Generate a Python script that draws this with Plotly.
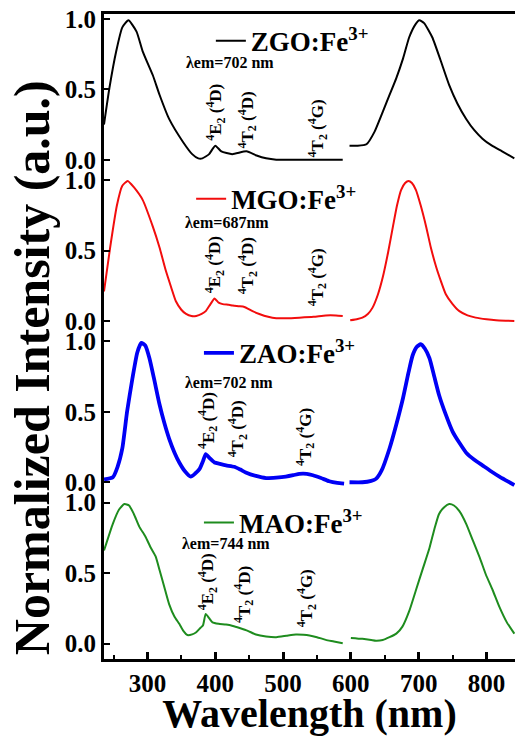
import plotly.graph_objects as go
from plotly.subplots import make_subplots

# ---------------- data ----------------
samples = ["ZGO:Fe<sup>3+</sup>", "MGO:Fe<sup>3+</sup>", "ZAO:Fe<sup>3+</sup>", "MAO:Fe<sup>3+</sup>"]
lambda_em = ["λem=702 nm", "λem=687nm", "λem=702 nm", "λem=744 nm"]
colors = ["#000000", "#f20d0d", "#0000f5", "#1e8c1e"]
widths = [2, 2, 3.8, 2]

zgo_exc_x = [236, 244, 254, 263, 272, 284, 293, 308, 318, 332, 352, 366, 375, 381, 391, 400, 409, 425, 446, 461, 475, 490, 510, 540, 565, 588]
zgo_exc_y = [0.25, 0.51, 0.77, 0.94, 0.99, 0.91, 0.77, 0.60, 0.46, 0.29, 0.13, 0.04, 0.01, 0.01, 0.04, 0.10, 0.06, 0.04, 0.06, 0.03, 0.01, 0.0, 0.0, 0.0, 0.0, 0.0]
zgo_em_x = [598, 610, 623, 635, 647, 657, 667, 677, 686, 695, 701, 708, 720, 732, 745, 757, 770, 782, 794, 808, 823, 841]
zgo_em_y = [0.10, 0.10, 0.11, 0.20, 0.34, 0.46, 0.58, 0.72, 0.87, 0.96, 0.99, 0.97, 0.87, 0.71, 0.53, 0.40, 0.29, 0.21, 0.15, 0.10, 0.06, 0.01]

mgo_exc_x = [236, 245, 255, 263, 271, 280, 293, 308, 318, 327, 335, 342, 350, 357, 365, 372, 380, 386, 393, 399, 405, 411, 420, 426, 435, 443, 455, 465, 478, 490, 505, 524, 545, 563, 578, 588]
mgo_exc_y = [0.21, 0.52, 0.82, 0.96, 0.995, 0.95, 0.86, 0.67, 0.52, 0.36, 0.24, 0.14, 0.08, 0.05, 0.035, 0.036, 0.05, 0.07, 0.12, 0.16, 0.13, 0.12, 0.115, 0.11, 0.105, 0.10, 0.07, 0.05, 0.03, 0.02, 0.02, 0.024, 0.03, 0.04, 0.04, 0.036]
mgo_em_x = [599, 610, 617, 625, 632, 640, 647, 655, 662, 668, 674, 680, 685, 690, 696, 703, 711, 718, 726, 733, 740, 750, 760, 772, 784, 800, 814, 830, 841]
mgo_em_y = [0.005, 0.015, 0.024, 0.05, 0.095, 0.19, 0.31, 0.49, 0.67, 0.82, 0.93, 0.98, 0.995, 0.98, 0.93, 0.82, 0.67, 0.52, 0.38, 0.28, 0.19, 0.12, 0.07, 0.04, 0.024, 0.012, 0.005, 0.002, 0.0]

zao_exc_x = [236, 249, 256, 263, 270, 278, 285, 291, 297, 303, 310, 318, 325, 332, 340, 347, 355, 364, 370, 377, 382, 386, 392, 399, 407, 416, 428, 437, 445, 460, 475, 490, 504, 515, 524, 535, 544, 556, 568, 580, 590]
zao_exc_y = [0.02, 0.036, 0.11, 0.24, 0.50, 0.74, 0.92, 0.99, 0.97, 0.88, 0.73, 0.55, 0.42, 0.31, 0.21, 0.14, 0.08, 0.04, 0.06, 0.095, 0.15, 0.20, 0.17, 0.14, 0.13, 0.12, 0.11, 0.09, 0.07, 0.045, 0.03, 0.033, 0.04, 0.05, 0.06, 0.06, 0.05, 0.03, 0.007, -0.005, -0.01]
zao_em_x = [598, 617, 630, 637, 645, 657, 667, 677, 685, 691, 697, 703, 709, 716, 723, 730, 740, 750, 760, 770, 782, 794, 806, 819, 830, 841]
zao_em_y = [0.0, 0.0, 0.01, 0.024, 0.08, 0.24, 0.41, 0.60, 0.78, 0.90, 0.96, 0.98, 0.95, 0.88, 0.75, 0.62, 0.48, 0.36, 0.28, 0.21, 0.16, 0.12, 0.08, 0.04, 0.01, -0.02]

mao_exc_x = [236, 249, 258, 266, 273, 280, 288, 297, 305, 312, 318, 325, 332, 340, 347, 353, 359, 366, 372, 378, 382, 386, 391, 396, 405, 416, 426, 436, 448, 460, 475, 490, 505, 519, 530, 539, 550, 563, 575, 588]
mao_exc_y = [0.66, 0.85, 0.95, 0.99, 0.98, 0.92, 0.83, 0.76, 0.68, 0.62, 0.52, 0.40, 0.28, 0.19, 0.14, 0.09, 0.06, 0.065, 0.08, 0.11, 0.13, 0.21, 0.18, 0.15, 0.14, 0.135, 0.125, 0.11, 0.09, 0.064, 0.05, 0.045, 0.055, 0.064, 0.062, 0.057, 0.045, 0.026, 0.015, 0.002]
mao_em_x = [600, 617, 630, 637, 647, 657, 667, 676, 686, 696, 706, 716, 723, 730, 738, 745, 752, 760, 770, 780, 790, 799, 809, 819, 830, 841]
mao_em_y = [0.04, 0.033, 0.025, 0.02, 0.025, 0.045, 0.07, 0.12, 0.23, 0.38, 0.53, 0.68, 0.81, 0.92, 0.97, 0.99, 0.98, 0.94, 0.85, 0.73, 0.61, 0.49, 0.38, 0.26, 0.15, 0.07]

exc_x = [zgo_exc_x, mgo_exc_x, zao_exc_x, mao_exc_x]
exc_y = [zgo_exc_y, mgo_exc_y, zao_exc_y, mao_exc_y]
em_x = [zgo_em_x, mgo_em_x, zao_em_x, mao_em_x]
em_y = [zgo_em_y, mgo_em_y, zao_em_y, mao_em_y]

band_labels = ["<sup>4</sup>E<sub>2</sub> (<sup>4</sup>D)",
               "<sup>4</sup>T<sub>2</sub> (<sup>4</sup>D)",
               "<sup>4</sup>T<sub>2</sub> (<sup>4</sup>G)"]
band_x = [[401, 447, 551], [399, 447, 550], [389, 433, 532], [389, 442, 535]]
band_y = [[0.34, 0.28, 0.22], [0.40, 0.39, 0.31], [0.44, 0.38, 0.32], [0.44, 0.35, 0.32]]

x_ticks = [300, 400, 500, 600, 700, 800]
y_ticks = [0, 0.5, 1.0]
y_ticktext = ["0.0", "0.5", "1.0"]

# ---------------- layout positions (style) ----------------
legend_pos = [(0.26, 0.958), (0.212, 0.713), (0.231, 0.474), (0.231, 0.211)]
lem_pos = [(354, 0.69), (352, 0.70), (352, 0.71), (348, 0.71)]

FONT = "Liberation Serif, Times New Roman, serif"

fig = make_subplots(rows=4, cols=1, shared_xaxes=True, vertical_spacing=0)

for i in range(4):
    r = i + 1
    leg = "legend" if i == 0 else f"legend{r}"
    fig.add_trace(go.Scatter(x=exc_x[i], y=exc_y[i], mode="lines", name=samples[i],
                             line=dict(color=colors[i], width=widths[i], shape="spline", smoothing=0.5),
                             legend=leg, showlegend=True), row=r, col=1)
    fig.add_trace(go.Scatter(x=em_x[i], y=em_y[i], mode="lines", name=samples[i],
                             line=dict(color=colors[i], width=widths[i], shape="spline", smoothing=0.5),
                             legend=leg, showlegend=False), row=r, col=1)
    yref = "y" if i == 0 else f"y{r}"
    xref = "x" if i == 0 else f"x{r}"
    for j in range(3):
        fig.add_annotation(x=band_x[i][j], y=band_y[i][j], xref=xref, yref=yref,
                           text=band_labels[j], textangle=-90, showarrow=False,
                           xanchor="center", yanchor="middle",
                           font=dict(family=FONT, size=17, color="black", weight="bold"))
    fig.add_annotation(x=lem_pos[i][0], y=lem_pos[i][1], xref=xref, yref=yref,
                       text=lambda_em[i], showarrow=False, xanchor="left", yanchor="middle",
                       font=dict(family=FONT, size=16, color="black", weight="bold"))
    fig.update_layout(**{leg: dict(x=legend_pos[i][0], y=legend_pos[i][1], xanchor="left", yanchor="middle",
                                   bgcolor="rgba(0,0,0,0)", borderwidth=0,
                                   font=dict(family=FONT, size=27, color="black", weight="bold"))})
    fig.update_yaxes(row=r, col=1, range=[-0.11, 1.035], tickvals=y_ticks, ticktext=y_ticktext,
                     ticks="inside", ticklen=6, tickwidth=2, tickcolor="black",
                     showline=True, linewidth=3, linecolor="black", showgrid=False, zeroline=False,
                     tickfont=dict(family=FONT, size=25, color="black", weight="bold"))

fig.update_xaxes(range=[236, 842], showgrid=False, zeroline=False)
fig.update_xaxes(row=1, col=1, showline=True, side="top", linewidth=3, linecolor="black", ticks="", showticklabels=False)
fig.update_xaxes(row=2, col=1, showline=False, ticks="")
fig.update_xaxes(row=3, col=1, showline=False, ticks="")
fig.update_xaxes(row=4, col=1, showline=True, linewidth=3, linecolor="black",
                 tickvals=x_ticks, ticks="inside", ticklen=7, tickwidth=2.5, tickcolor="black",
                 minor=dict(ticks="inside", ticklen=4, tickwidth=2, tickcolor="black", dtick=50, tick0=250),
                 tickfont=dict(family=FONT, size=25, color="black", weight="bold"),
                 title=dict(text="Wavelength (nm)", standoff=9,
                            font=dict(family=FONT, size=40, color="black", weight="bold")))

fig.add_annotation(x=-0.175, y=0.451, xref="paper", yref="paper", text="Normalized Intensity (a.u.)",
                   textangle=-90, showarrow=False, xanchor="center", yanchor="middle",
                   font=dict(family=FONT, size=50, color="black", weight="bold"))

fig.update_layout(width=515, height=736, margin=dict(l=104, r=0, t=14, b=77),
                  plot_bgcolor="white", paper_bgcolor="white")

fig.write_html("out.html")
